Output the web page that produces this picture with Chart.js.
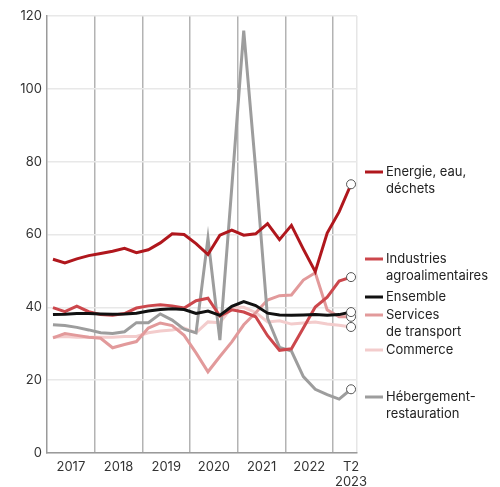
<!DOCTYPE html>
<html>
<head>
<meta charset="UTF-8">
<script src="https://cdn.jsdelivr.net/npm/chart.js@4/dist/chart.umd.min.js"></script>
<style>
  body { margin: 0; background: #fff; }
  #wrap { width: 500px; height: 487px; }
</style>
</head>
<body>
<div id="wrap"><canvas id="myChart"></canvas></div>
<script>
  // quarterly data, T1 2017 -> T2 2023
  const quarters = ['T1 2017','T2 2017','T3 2017','T4 2017','T1 2018','T2 2018','T3 2018','T4 2018',
    'T1 2019','T2 2019','T3 2019','T4 2019','T1 2020','T2 2020','T3 2020','T4 2020',
    'T1 2021','T2 2021','T3 2021','T4 2021','T1 2022','T2 2022','T3 2022','T4 2022','T1 2023','T2 2023'];

  const energie = [53.2,52.2,53.3,54.2,54.8,55.4,56.2,55.0,55.8,57.7,60.2,60.0,57.5,54.5,59.8,61.2,
    59.8,60.2,63.0,58.6,62.5,56.0,49.8,60.4,66.2,73.8];
  const industries = [39.9,38.8,40.3,38.8,38.0,37.8,38.3,39.8,40.4,40.7,40.4,39.8,41.8,42.5,37.6,39.3,
    38.7,37.4,32.2,28.2,28.6,34.3,40.1,42.8,47.2,48.3];
  const ensemble = [38.0,38.1,38.3,38.3,38.2,38.1,38.2,38.4,39.0,39.4,39.6,39.4,38.3,39.0,37.8,40.3,
    41.6,40.5,38.4,37.9,37.8,37.9,38.0,37.8,38.0,38.7];
  const services = [31.6,32.8,32.3,31.8,31.5,28.9,29.8,30.6,34.3,35.7,35.0,32.3,27.5,22.3,26.5,30.5,
    35.2,38.5,42.0,43.2,43.4,47.5,49.5,39.3,37.4,37.4];
  const commerce = [31.8,32.0,31.8,31.8,31.8,31.8,32.0,32.0,33.0,33.5,33.8,34.3,33.0,36.0,35.8,40.0,
    40.0,38.6,36.0,36.3,35.4,35.7,36.0,35.4,35.1,34.6];
  const hebergement = [35.2,35.0,34.5,33.8,33.0,32.8,33.3,35.8,35.8,38.2,36.5,34.0,33.0,59.0,31.0,73.0,
    116.0,78.0,37.0,29.0,28.0,21.0,17.5,16.0,14.8,17.5];

  const yearLabels = ['2017','2018','2019','2020','2021','2022',['T2','2023']];
  const yearLabelPos = [1.5,5.5,9.5,13.5,17.5,21.5,25];
  const yearLines = [3.5,7.5,11.5,15.5,19.5,23.5];

  const series = [
    {label:'Ensemble', data:ensemble, color:'#111111'},
    {label:'Energie, eau, déchets', data:energie, color:'#b0171d'},
    {label:'Industries agroalimentaires', data:industries, color:'#cc474c'},
    {label:'Hébergement-restauration', data:hebergement, color:'#9d9d9d'},
    {label:'Services de transport', data:services, color:'#e29a9b'},
    {label:'Commerce', data:commerce, color:'#f3cccc'}
  ];

  const legendItems = [
    {color:'#b0171d', lines:['Energie, eau,','déchets'], y:172},
    {color:'#cc474c', lines:['Industries','agroalimentaires'], y:259},
    {color:'#111111', lines:['Ensemble'], y:297},
    {color:'#e29a9b', lines:['Services','de transport'], y:315},
    {color:'#f3cccc', lines:['Commerce'], y:350},
    {color:'#9d9d9d', lines:['Hébergement-','restauration'], y:397}
  ];

  const sideLegend = {
    id: 'sideLegend',
    afterDraw(chart) {
      const ctx = chart.ctx;
      ctx.save();
      ctx.font = '13px Inter';
      ctx.textBaseline = 'middle';
      legendItems.forEach(function(it){
        ctx.strokeStyle = it.color;
        ctx.lineWidth = 3;
        ctx.beginPath();
        ctx.moveTo(365, it.y);
        ctx.lineTo(383, it.y);
        ctx.stroke();
        ctx.fillStyle = '#222';
        it.lines.forEach(function(t, k){
          ctx.fillText(t, 386, it.y + k * 17.5);
        });
      });
      ctx.restore();
    }
  };

  Chart.defaults.font.family = 'Inter';
  Chart.defaults.font.size = 13;
  Chart.defaults.color = '#333';

  new Chart('myChart', {
    type: 'line',
    data: {
      datasets: series.map(function(s){
        return {
          label: s.label,
          data: s.data.map(function(v, i){ return {x: i, y: v}; }),
          borderColor: s.color,
          borderWidth: 3,
          tension: 0,
          pointRadius: function(c){ return c.dataIndex === quarters.length - 1 ? 4.5 : 0; },
          pointBackgroundColor: '#fff',
          pointBorderColor: '#555',
          pointBorderWidth: 1,
          pointHoverRadius: 0
        };
      })
    },
    options: {
      responsive: true,
      maintainAspectRatio: false,
      animation: false,
      layout: {padding: {top: 16, right: 143, left: 0, bottom: 0}},
      plugins: {legend: {display: false}, tooltip: {enabled: false}},
      scales: {
        x: {
          type: 'linear',
          min: -0.5,
          max: 25.5,
          afterBuildTicks: function(scale){
            const vals = yearLines.concat(yearLabelPos).concat([25.5]).sort(function(a,b){return a-b;});
            scale.ticks = vals.map(function(v){ return {value: v}; });
          },
          afterFit: function(scale){ scale.height = 34; },
          ticks: {
            autoSkip: false,
            maxRotation: 0,
            padding: 6,
            color: '#333',
            callback: function(v){
              const k = yearLabelPos.indexOf(v);
              return k >= 0 ? yearLabels[k] : '';
            }
          },
          grid: {
            drawTicks: false,
            lineWidth: 1.5,
            color: function(c){
              const v = c.tick ? c.tick.value : null;
              if (yearLines.indexOf(v) >= 0) return '#b3b3b3';
              if (v === 25.5) return '#e6e6e6';
              return 'rgba(0,0,0,0)';
            }
          },
          border: {color: '#9a9a9a', width: 1.5}
        },
        y: {
          min: 0,
          max: 120,
          afterFit: function(scale){ scale.width = 47; },
          ticks: {stepSize: 20, padding: 5, color: '#333'},
          grid: {drawTicks: false, color: '#e8e8e8', lineWidth: 1.5},
          border: {color: '#9a9a9a', width: 1.5}
        }
      }
    },
    plugins: [sideLegend]
  });
</script>
</body>
</html>
